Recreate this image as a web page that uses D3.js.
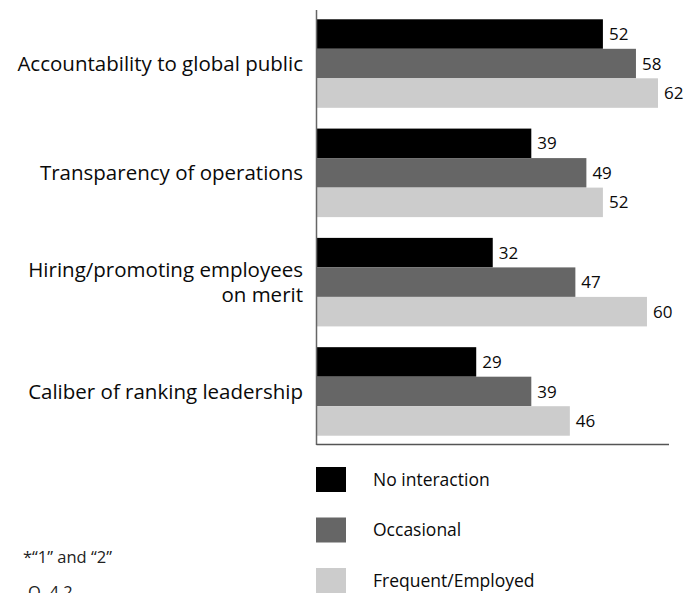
<!DOCTYPE html>
<html>
<head>
<meta charset="utf-8">
<script src="https://cdn.jsdelivr.net/npm/d3@7"></script>
<style>
  html, body { margin: 0; padding: 0; background: #fff; }
  svg { display: block; }
  text { font-family: "Open Sans", "Noto Sans", sans-serif; fill: #0a0a0a; }
</style>
</head>
<body>
<div id="chart"></div>
<script>
// Categories (drawn top to bottom) and their label lines
const categories = [
  "Accountability to global public",
  "Transparency of operations",
  "Hiring/promoting employees on merit",
  "Caliber of ranking leadership"
];
const categoryLines = [
  ["Accountability to global public"],
  ["Transparency of operations"],
  ["Hiring/promoting employees", "on merit"],
  ["Caliber of ranking leadership"]
];

// Series
const seriesNames = ["No interaction", "Occasional", "Frequent/Employed"];
const noInteraction = [52, 39, 32, 29];
const occasional    = [58, 49, 47, 39];
const frequent      = [62, 52, 60, 46];
const seriesColors  = ["#000000", "#666666", "#cccccc"];

const footnotes = ["*\u201C1\u201D and \u201C2\u201D", "Q. 4.2"];

const W = 700, H = 593;
const svg = d3.select("#chart").append("svg")
  .attr("width", W).attr("height", H);

const seriesValues = [noInteraction, occasional, frequent];
const rows = categories.map((c, i) => ({
  cat: c,
  values: seriesNames.map((s, k) => ({ series: s, k, value: seriesValues[k][i] }))
}));

const x = d3.scaleLinear().domain([0, 64]).range([316.5, 669]);
const y = d3.scaleBand().domain(categories).range([10, 445])
  .paddingInner(0.19).paddingOuter(0.085);
const ySub = d3.scaleBand().domain(seriesNames).range([0, y.bandwidth()]);
const color = d3.scaleOrdinal().domain(seriesNames).range(seriesColors);

// Bars
const groups = svg.selectAll("g.group").data(rows).join("g")
  .attr("class", "group")
  .attr("transform", d => `translate(0,${y(d.cat)})`);

groups.selectAll("rect").data(d => d.values).join("rect")
  .attr("x", x(0))
  .attr("y", d => ySub(d.series))
  .attr("width", d => x(d.value) - x(0))
  .attr("height", ySub.bandwidth())
  .attr("fill", d => color(d.series));

// Value labels
groups.selectAll("text.val").data(d => d.values).join("text")
  .attr("class", "val")
  .attr("x", d => x(d.value) + 6)
  .attr("y", d => ySub(d.series) + ySub.bandwidth() / 2)
  .attr("dy", "0.36em")
  .style("font-size", "17px")
  .text(d => d.value);

// Axis lines
svg.append("line")
  .attr("x1", x(0)).attr("x2", x(0))
  .attr("y1", 10).attr("y2", 445)
  .attr("stroke", "#666").attr("stroke-width", 1.5);
svg.append("line")
  .attr("x1", x(0)).attr("x2", x.range()[1])
  .attr("y1", 444.5).attr("y2", 444.5)
  .attr("stroke", "#555").attr("stroke-width", 1.5);

// Category labels
const catLabels = svg.selectAll("text.cat").data(categories).join("text")
  .attr("class", "cat")
  .attr("text-anchor", "end")
  .style("font-size", "20.5px");
catLabels.each(function(c, i) {
  const lines = categoryLines[i];
  const lh = 25;
  const cy = y(c) + y.bandwidth() / 2;
  const t = d3.select(this);
  lines.forEach((ln, j) => {
    t.append("tspan")
      .attr("x", 303)
      .attr("y", cy + (j - (lines.length - 1) / 2) * lh)
      .attr("dy", "0.35em")
      .text(ln);
  });
});

// Legend
const legend = svg.selectAll("g.leg").data(seriesNames).join("g")
  .attr("class", "leg")
  .attr("transform", (d, i) => `translate(316,${467 + i * 50.5})`);
legend.append("rect")
  .attr("width", 30).attr("height", 25)
  .attr("fill", d => color(d));
legend.append("text")
  .attr("x", 57).attr("y", 12.5).attr("dy", "0.35em")
  .style("font-size", "17.5px")
  .text(d => d);

// Footnotes
svg.selectAll("text.foot").data(footnotes).join("text")
  .attr("class", "foot")
  .attr("x", (d, i) => i === 0 ? 23 : 28)
  .attr("y", (d, i) => i === 0 ? 563 : 598)
  .style("font-size", "16.5px")
  .style("fill", "#222")
  .text(d => d);
</script>
</body>
</html>
